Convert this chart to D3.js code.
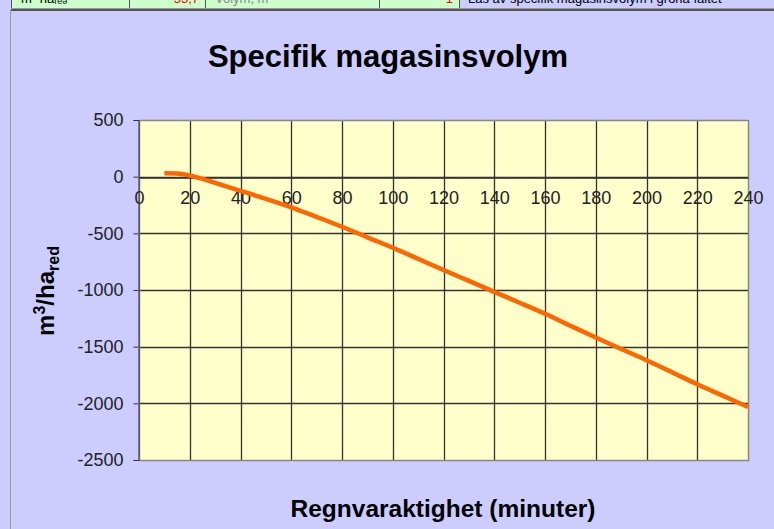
<!DOCTYPE html>
<html>
<head>
<meta charset="utf-8">
<script src="https://cdn.jsdelivr.net/npm/d3@7"></script>
<style>
  body { margin: 0; background: #ccccff; }
  svg { display: block; font-family: Arial, "Liberation Sans", sans-serif; }
</style>
</head>
<body>
<div id="chart"></div>
<script>
// values
var minutes = [10, 15, 20, 25, 30, 40, 50, 60, 70, 80, 90, 100, 110, 120, 130, 140, 150, 160, 170, 180, 190, 200, 210, 220, 230, 240];
var volume = [30, 27, 10, -20, -55, -125, -195, -270, -355, -442, -535, -627, -725, -824, -920, -1016, -1112, -1210, -1315, -1419, -1520, -1620, -1725, -1832, -1932, -2032];
var xTicks = [0, 20, 40, 60, 80, 100, 120, 140, 160, 180, 200, 220, 240];
var yTicks = [500, 0, -500, -1000, -1500, -2000, -2500];
// clipped spreadsheet row above the chart
var cellEdges = [11, 129, 205, 379, 459];
var cellTexts = ["m\u00b3 ha\u1d63\u2091\u2094", "53,7", "Volym, m\u00b3", "1"];

var w = 774, h = 529;
var plot = {left: 139, right: 748, top: 120, bottom: 460};
var lavender = "#ccccff", paper = "#ffffcc", green = "#ccffcc";

var svg = d3.select("#chart").append("svg")
  .attr("width", w)
  .attr("height", h);

svg.append("rect")
  .attr("width", w).attr("height", h)
  .attr("fill", lavender);

// spreadsheet strip
var strip = svg.append("g");
for (var i = 0; i < cellEdges.length - 1; i++) {
  strip.append("rect")
    .attr("x", cellEdges[i]).attr("y", 0)
    .attr("width", cellEdges[i+1] - cellEdges[i]).attr("height", 8)
    .attr("fill", green);
}
strip.selectAll(".cellText")
  .data(cellTexts)
  .enter()
  .append("text")
  .attr("x", (d, i) => i == 1 || i == 3 ? cellEdges[i+1] - 6 : cellEdges[i] + 10)
  .attr("y", 3)
  .attr("text-anchor", (d, i) => i == 1 || i == 3 ? "end" : "start")
  .attr("font-size", "13px")
  .attr("fill", (d, i) => i == 1 || i == 3 ? "#ff0000" : (i == 2 ? "#888" : "#000"))
  .text(d => d);
strip.append("text")
  .attr("x", 468).attr("y", 3)
  .attr("font-size", "13px")
  .text("L\u00e4s av specifik magasinsvolym i gr\u00f6na f\u00e4ltet");
strip.selectAll(".cellLine")
  .data(cellEdges)
  .enter()
  .append("line")
  .attr("x1", d => d + 0.5).attr("x2", d => d + 0.5)
  .attr("y1", 0).attr("y2", 9)
  .attr("stroke", "#555");
strip.append("line")
  .attr("x1", 11).attr("x2", w)
  .attr("y1", 8.5).attr("y2", 8.5)
  .attr("stroke", "#999");
strip.append("line")
  .attr("x1", 11).attr("x2", w)
  .attr("y1", 10).attr("y2", 10)
  .attr("stroke", "#555")
  .attr("stroke-width", 2);
// left border of the chart object
svg.append("line")
  .attr("x1", 10.5).attr("x2", 10.5)
  .attr("y1", 10).attr("y2", h)
  .attr("stroke", "#999");

var xScale = d3.scaleLinear()
  .domain([0, 240])
  .range([plot.left, plot.right]);
var yScale = d3.scaleLinear()
  .domain([-2500, 500])
  .range([plot.bottom, plot.top]);

svg.append("rect")
  .attr("x", plot.left).attr("y", plot.top)
  .attr("width", plot.right - plot.left)
  .attr("height", plot.bottom - plot.top)
  .attr("fill", paper);

// grid
svg.append("g")
  .selectAll("line")
  .data(xTicks.slice(1, -1))
  .enter()
  .append("line")
  .attr("x1", d => Math.round(xScale(d)) + 0.5).attr("x2", d => Math.round(xScale(d)) + 0.5)
  .attr("y1", plot.top).attr("y2", plot.bottom)
  .attr("stroke", "#333")
  .attr("stroke-width", 1.3);
svg.append("g")
  .selectAll("line")
  .data(yTicks.slice(1, -1))
  .enter()
  .append("line")
  .attr("x1", plot.left).attr("x2", plot.right)
  .attr("y1", d => Math.round(yScale(d)) + 0.5).attr("y2", d => Math.round(yScale(d)) + 0.5)
  .attr("stroke", "#333")
  .attr("stroke-width", 1.3);

svg.append("rect")
  .attr("x", plot.left + 0.5).attr("y", plot.top + 0.5)
  .attr("width", plot.right - plot.left)
  .attr("height", plot.bottom - plot.top)
  .attr("fill", "none")
  .attr("stroke", "#888")
  .attr("stroke-width", 1.5);

// y axis
var yAxis = d3.axisLeft(yScale)
  .tickValues(yTicks)
  .tickFormat(d => String(d))
  .tickSize(5)
  .tickPadding(10);
var yG = svg.append("g")
  .attr("transform", "translate(" + (plot.left - 0.5) + ",0)")
  .call(yAxis);
yG.select(".domain").attr("stroke", "#333");
yG.selectAll(".tick line").attr("stroke", "#333");
yG.selectAll(".tick text")
  .attr("font-size", "18px")
  .attr("font-family", "Arial, 'Liberation Sans', sans-serif")
  .attr("fill", "#222");

// x axis crosses at 0
var xAxis = d3.axisBottom(xScale)
  .tickValues(xTicks)
  .tickFormat(d => String(d))
  .tickSize(0)
  .tickPadding(14);
var xG = svg.append("g")
  .attr("transform", "translate(0," + (Math.round(yScale(0)) + 0.5) + ")")
  .call(xAxis);
xG.select(".domain").attr("stroke", "#333").attr("stroke-width", 1.3);
xG.selectAll(".tick text")
  .attr("font-size", "18px")
  .attr("font-family", "Arial, 'Liberation Sans', sans-serif")
  .attr("fill", "#222");

// the curve
var line = d3.line()
  .x((d, i) => xScale(minutes[i]))
  .y(d => yScale(d))
  .curve(d3.curveCatmullRom);
svg.append("path")
  .datum(volume)
  .attr("d", line)
  .attr("fill", "none")
  .attr("stroke", "#ff6600")
  .attr("stroke-width", 4.5)
  .attr("stroke-linecap", "butt");

// titles
svg.append("text")
  .attr("x", 388).attr("y", 67)
  .attr("text-anchor", "middle")
  .attr("font-size", "31px")
  .attr("font-weight", "bold")
  .text("Specifik magasinsvolym");
svg.append("text")
  .attr("x", 443).attr("y", 517)
  .attr("text-anchor", "middle")
  .attr("font-size", "24.5px")
  .attr("font-weight", "bold")
  .text("Regnvaraktighet (minuter)");
var yLab = svg.append("text")
  .attr("transform", "translate(54,291) rotate(-90)")
  .attr("text-anchor", "middle")
  .attr("font-size", "24px")
  .attr("font-weight", "bold");
yLab.append("tspan").text("m");
yLab.append("tspan").attr("dy", -9).attr("font-size", "16px").text("3");
yLab.append("tspan").attr("dy", 9).text("/ha");
yLab.append("tspan").attr("dy", 5).attr("font-size", "16px").text("red");
</script>
</body>
</html>
